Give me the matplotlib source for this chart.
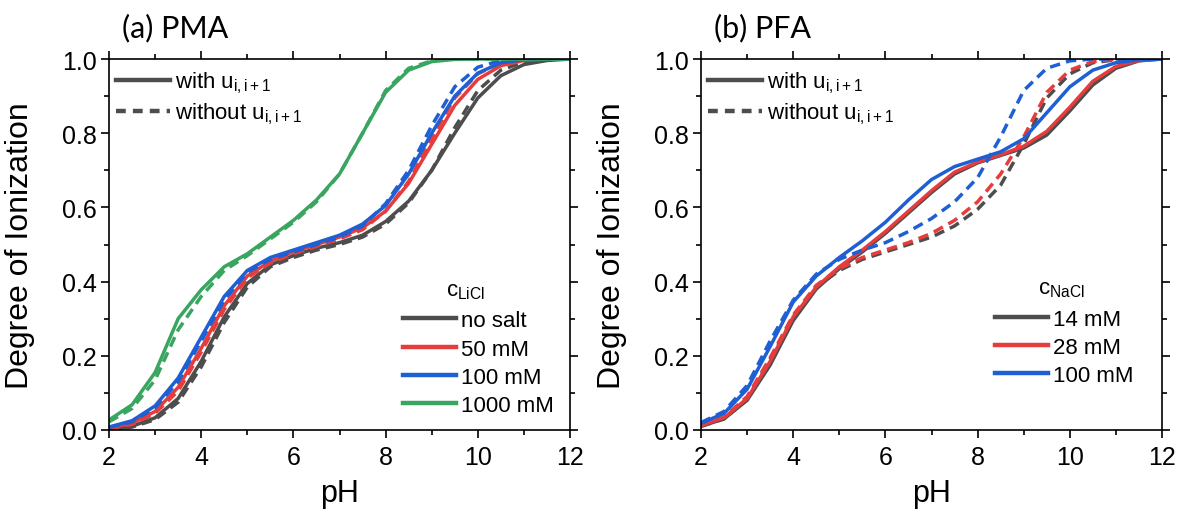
import matplotlib
matplotlib.use("Agg")
import matplotlib.pyplot as plt
from matplotlib.lines import Line2D

# ---------------- data ----------------
ph = [2.0, 2.5, 3.0, 3.5, 4.0, 4.5, 5.0, 5.5, 6.0, 6.5, 7.0, 7.5, 8.0, 8.5,
      9.0, 9.5, 10.0, 10.5, 11.0, 11.5, 12.0]

# (a) PMA, LiCl
pma_labels = ["no salt", "50 mM", "100 mM", "1000 mM"]
pma_nosalt_with = [0.000, 0.010, 0.033, 0.085, 0.185, 0.305, 0.395, 0.445, 0.470, 0.490, 0.505,
                   0.525, 0.562, 0.617, 0.700, 0.800, 0.895, 0.955, 0.985, 0.996, 1.000]
pma_nosalt_without = [0.000, 0.008, 0.028, 0.075, 0.170, 0.290, 0.385, 0.440, 0.465, 0.485, 0.500,
                      0.520, 0.555, 0.612, 0.700, 0.815, 0.915, 0.970, 0.992, 0.999, 1.000]
pma_50_with = [0.005, 0.018, 0.050, 0.115, 0.220, 0.335, 0.415, 0.455, 0.480, 0.500, 0.520,
               0.545, 0.590, 0.665, 0.770, 0.875, 0.945, 0.982, 0.996, 1.000, 1.000]
pma_50_without = [0.004, 0.015, 0.045, 0.105, 0.210, 0.325, 0.410, 0.450, 0.475, 0.495, 0.515,
                  0.540, 0.590, 0.670, 0.785, 0.895, 0.960, 0.990, 0.998, 1.000, 1.000]
pma_100_with = [0.008, 0.025, 0.065, 0.140, 0.250, 0.360, 0.430, 0.465, 0.485, 0.505, 0.525,
                0.555, 0.605, 0.690, 0.800, 0.900, 0.962, 0.990, 0.998, 1.000, 1.000]
pma_100_without = [0.007, 0.022, 0.060, 0.130, 0.240, 0.350, 0.425, 0.460, 0.480, 0.500, 0.520,
                   0.550, 0.610, 0.700, 0.820, 0.925, 0.978, 0.996, 1.000, 1.000, 1.000]
pma_1000_with = [0.027, 0.068, 0.155, 0.300, 0.378, 0.440, 0.475, 0.520, 0.565, 0.620, 0.690,
                 0.800, 0.910, 0.970, 0.993, 0.999, 1.000, 1.000, 1.000, 1.000, 1.000]
pma_1000_without = [0.022, 0.058, 0.135, 0.270, 0.360, 0.430, 0.470, 0.515, 0.560, 0.615, 0.690,
                    0.800, 0.915, 0.975, 0.995, 1.000, 1.000, 1.000, 1.000, 1.000, 1.000]

# (b) PFA, NaCl
pfa_labels = ["14 mM", "28 mM", "100 mM"]
pfa_14_with = [0.010, 0.030, 0.080, 0.175, 0.295, 0.380, 0.435, 0.480, 0.530, 0.585, 0.640,
               0.690, 0.720, 0.740, 0.760, 0.795, 0.860, 0.930, 0.975, 0.995, 1.000]
pfa_14_without = [0.010, 0.030, 0.085, 0.190, 0.305, 0.385, 0.430, 0.460, 0.480, 0.500, 0.520,
                  0.550, 0.595, 0.660, 0.770, 0.895, 0.960, 0.990, 0.998, 1.000, 1.000]
pfa_28_with = [0.012, 0.033, 0.085, 0.185, 0.305, 0.385, 0.440, 0.485, 0.535, 0.590, 0.645,
               0.695, 0.722, 0.742, 0.765, 0.805, 0.870, 0.940, 0.980, 0.996, 1.000]
pfa_28_without = [0.012, 0.035, 0.090, 0.195, 0.310, 0.390, 0.435, 0.465, 0.485, 0.505, 0.530,
                  0.565, 0.615, 0.690, 0.790, 0.910, 0.970, 0.993, 0.999, 1.000, 1.000]
pfa_100_with = [0.018, 0.045, 0.110, 0.225, 0.345, 0.415, 0.465, 0.510, 0.560, 0.620, 0.675,
                0.710, 0.730, 0.750, 0.785, 0.855, 0.925, 0.970, 0.990, 0.998, 1.000]
pfa_100_without = [0.020, 0.050, 0.120, 0.240, 0.350, 0.420, 0.460, 0.485, 0.505, 0.535, 0.570,
                   0.615, 0.680, 0.790, 0.915, 0.975, 0.995, 1.000, 1.000, 1.000, 1.000]

# ---------------- style ----------------
plt.rcParams["font.family"] = ["Liberation Sans", "DejaVu Sans"]
plt.rcParams["mathtext.fontset"] = "custom"
plt.rcParams["mathtext.rm"] = "Liberation Sans"
plt.rcParams["mathtext.it"] = "Liberation Sans"

GREY = "#4d4d4d"
RED = "#e63c3c"
BLUE = "#1f5fd4"
GREEN = "#39a560"
LW = 2.5
DASH = (3.0, 1.8)

TITLEFONT = ["Lato", "DejaVu Sans"]

fig = plt.figure(figsize=(11.78, 5.10), dpi=100)
axA = fig.add_axes([109/1178, 79/510, 461/1178, 371/510])
axB = fig.add_axes([701/1178, 79/510, 461/1178, 371/510])


def style_axes(ax):
    ax.set_xlim(2, 12)
    ax.set_ylim(0, 1.0)
    ax.set_xticks([2, 4, 6, 8, 10, 12])
    ax.set_xticks([3, 5, 7, 9, 11], minor=True)
    ax.set_yticks([0, 0.2, 0.4, 0.6, 0.8, 1.0])
    ax.set_yticks([0.1, 0.3, 0.5, 0.7, 0.9], minor=True)
    ax.set_yticklabels(["0.0", "0.2", "0.4", "0.6", "0.8", "1.0"])
    ax.tick_params(which="both", direction="out", top=True, right=True,
                   width=1.2, color="black", labelsize=18)
    ax.tick_params(which="major", length=6)
    ax.tick_params(which="minor", length=3.5)
    ax.tick_params(axis="x", which="major", pad=5)
    ax.tick_params(axis="y", which="major", pad=3)
    for s in ax.spines.values():
        s.set_linewidth(1.2)
    ax.set_xlabel("pH", fontsize=22)
    ax.xaxis.set_label_coords(0.5, -0.130)
    ax.set_ylabel("Degree of Ionization", fontsize=23)
    ax.yaxis.set_label_coords(-0.160, 0.5)


def add_legends(ax, labels, colors, title, title_xy, bottom):
    h1 = [Line2D([], [], color=GREY, lw=3.2),
          Line2D([], [], color=GREY, lw=3.2, dashes=(2.2, 1.6))]
    l1 = ax.legend(h1, [r"with u$_{\mathregular{i,i+1}}$", r"without u$_{\mathregular{i,i+1}}$"],
                   loc="upper left", bbox_to_anchor=(0.015, 0.972), frameon=False,
                   prop={"size": 16}, handlelength=2.45,
                   handletextpad=0.22, labelspacing=0.25, borderpad=0, borderaxespad=0)
    ax.add_artist(l1)
    h2 = [Line2D([], [], color=c, lw=3.2) for c in colors]
    ax.legend(h2, labels, loc="lower left", bbox_to_anchor=(0.638, bottom),
              frameon=False, prop={"size": 16},
              handlelength=2.39, handletextpad=0.2, labelspacing=0.33,
              borderpad=0, borderaxespad=0)
    ax.text(title_xy[0], title_xy[1], title, transform=ax.transAxes, fontsize=16,
            ha="center", va="baseline")


# (a) PMA
for yw, yo, c in [(pma_nosalt_with, pma_nosalt_without, GREY),
                  (pma_50_with, pma_50_without, RED),
                  (pma_100_with, pma_100_without, BLUE),
                  (pma_1000_with, pma_1000_without, GREEN)]:
    axA.plot(ph, yw, color=c, lw=LW, solid_capstyle="round", solid_joinstyle="round")
    axA.plot(ph, yo, color=c, lw=LW, dashes=DASH)
style_axes(axA)
add_legends(axA, pma_labels, [GREY, RED, BLUE, GREEN], r"c$_{\mathregular{LiCl}}$",
            (0.774, 0.364), 0.037)
axA.text(0.028, 1.086, "(a) PMA", transform=axA.transAxes, fontfamily=TITLEFONT,
         fontsize=22, va="center", ha="left")

# (b) PFA
for yw, yo, c in [(pfa_14_with, pfa_14_without, GREY),
                  (pfa_28_with, pfa_28_without, RED),
                  (pfa_100_with, pfa_100_without, BLUE)]:
    axB.plot(ph, yw, color=c, lw=LW, solid_capstyle="round", solid_joinstyle="round")
    axB.plot(ph, yo, color=c, lw=LW, dashes=DASH)
style_axes(axB)
add_legends(axB, pfa_labels, [GREY, RED, BLUE], r"c$_{\mathregular{NaCl}}$",
            (0.783, 0.369), 0.118)
axB.text(0.028, 1.086, "(b) PFA", transform=axB.transAxes, fontfamily=TITLEFONT,
         fontsize=22, va="center", ha="left")

fig.savefig("out.png", dpi=100)
